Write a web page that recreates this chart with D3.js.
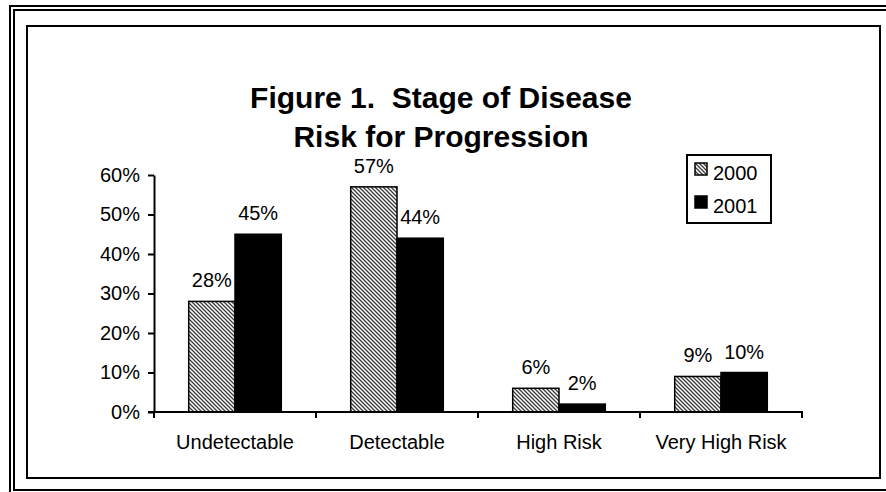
<!DOCTYPE html>
<html>
<head>
<meta charset="utf-8">
<script src="https://cdn.jsdelivr.net/npm/d3@7"></script>
<style>
  html, body { margin: 0; padding: 0; background: #fff; }
  svg { display: block; }
  text { font-family: "Liberation Sans", Arial, Helvetica, sans-serif; fill: #000; }
</style>
</head>
<body>
<script>
// Stage of disease, share of patients by risk group
const categories = ["Undetectable", "Detectable", "High Risk", "Very High Risk"];
const seriesNames = ["2000", "2001"];
const values2000 = [0.28, 0.57, 0.06, 0.09];
const values2001 = [0.45, 0.44, 0.02, 0.10];
const yTicks = [0, 0.1, 0.2, 0.3, 0.4, 0.5, 0.6];
const titleLines = ["Figure 1.  Stage of Disease", "Risk for Progression"];

const W = 886, H = 492;
const svg = d3.select("body").append("svg").attr("width", W).attr("height", H);

// hatch pattern for the 2000 series
const defs = svg.append("defs");
const pat = defs.append("pattern")
  .attr("id", "hatch").attr("patternUnits", "userSpaceOnUse")
  .attr("width", 4).attr("height", 4);
pat.append("rect").attr("width", 4).attr("height", 4).attr("fill", "#fff");
pat.append("path")
  .attr("d", "M-1,-1 L5,5 M-1,3 L1,5 M3,-1 L5,1")
  .attr("stroke", "#3a3a3a").attr("stroke-width", 1.3);

// page frame: double lines left/top, single bottom
const frame = svg.append("g").attr("fill", "none").attr("stroke", "#000").attr("stroke-width", 2);
frame.append("path").attr("d", `M10,${H} L10,6 L${W},6`);
frame.append("path").attr("d", `M${W},10 L14,10 L14,490 L${W},490`);

// chart area border
svg.append("rect")
  .attr("x", 27).attr("y", 26).attr("width", 853).attr("height", 452)
  .attr("fill", "none").attr("stroke", "#000").attr("stroke-width", 2);

// title
svg.append("g").selectAll("text").data(titleLines).join("text")
  .attr("x", 441).attr("y", (d, i) => 108 + i * 39)
  .attr("text-anchor", "middle")
  .attr("font-size", 30).attr("font-weight", "bold")
  .style("white-space", "pre")
  .text(d => d);

const plotLeft = 154, plotRight = 802, plotTop = 175, plotBottom = 412;

const x = d3.scaleBand().domain(categories).range([plotLeft, plotRight]).padding(0);
const xs = d3.scaleBand().domain(seriesNames).range([0, x.bandwidth()])
  .paddingInner(0).paddingOuter(0.75);
const y = d3.scaleLinear().domain([0, 0.6]).range([plotBottom, plotTop]);

const fmt = d3.format(".0%");

// y axis
const yAxis = svg.append("g")
  .attr("transform", `translate(${plotLeft},0)`)
  .call(d3.axisLeft(y).tickValues(yTicks).tickFormat(fmt).tickSize(6).tickSizeOuter(0).tickPadding(8));
yAxis.select(".domain").attr("stroke-width", 2);
yAxis.selectAll(".tick line").attr("stroke-width", 2);
yAxis.selectAll(".tick text").attr("font-size", 20).attr("font-family", null);

// bars
const rows = categories.map((c, i) => ({ cat: c, vals: [values2000[i], values2001[i]] }));
const groups = svg.append("g").selectAll("g").data(rows).join("g")
  .attr("transform", d => `translate(${x(d.cat)},0)`);

groups.selectAll("rect").data(d => d.vals.map((v, j) => ({ s: seriesNames[j], v }))).join("rect")
  .attr("x", d => xs(d.s))
  .attr("width", xs.bandwidth())
  .attr("y", d => y(d.v))
  .attr("height", d => y(0) - y(d.v))
  .attr("fill", d => d.s === "2000" ? "url(#hatch)" : "#000")
  .attr("stroke", "#000").attr("stroke-width", 1.5);

// value labels
groups.selectAll("text").data(d => d.vals.map((v, j) => ({ s: seriesNames[j], v }))).join("text")
  .attr("x", d => xs(d.s) + xs.bandwidth() / 2)
  .attr("y", d => y(d.v) - 14)
  .attr("text-anchor", "middle")
  .attr("font-size", 20)
  .text(d => fmt(d.v));

// x axis with ticks at category boundaries
const xAxis = svg.append("g").attr("stroke", "#000").attr("stroke-width", 2);
xAxis.append("line").attr("x1", plotLeft - 6).attr("x2", plotRight + 1)
  .attr("y1", plotBottom).attr("y2", plotBottom);
const bounds = categories.map(c => x(c)).concat([x(categories[categories.length - 1]) + x.bandwidth()]);
xAxis.selectAll("line.b").data(bounds).join("line").attr("class", "b")
  .attr("x1", d => d).attr("x2", d => d)
  .attr("y1", plotBottom).attr("y2", plotBottom + 6);

svg.append("g").selectAll("text").data(categories).join("text")
  .attr("x", d => x(d) + x.bandwidth() / 2)
  .attr("y", 449)
  .attr("text-anchor", "middle")
  .attr("font-size", 20)
  .text(d => d);

// legend
const legend = svg.append("g");
legend.append("rect").attr("x", 687).attr("y", 155).attr("width", 84).attr("height", 68)
  .attr("fill", "#fff").attr("stroke", "#000").attr("stroke-width", 2);
const li = legend.selectAll("g").data(seriesNames).join("g")
  .attr("transform", (d, i) => `translate(695,${163 + i * 33})`);
li.append("rect").attr("width", 12).attr("height", 12)
  .attr("fill", d => d === "2000" ? "url(#hatch)" : "#000")
  .attr("stroke", "#000").attr("stroke-width", 1.5);
li.append("text").attr("x", 18).attr("y", 17).attr("font-size", 20).text(d => d);
</script>
</body>
</html>
